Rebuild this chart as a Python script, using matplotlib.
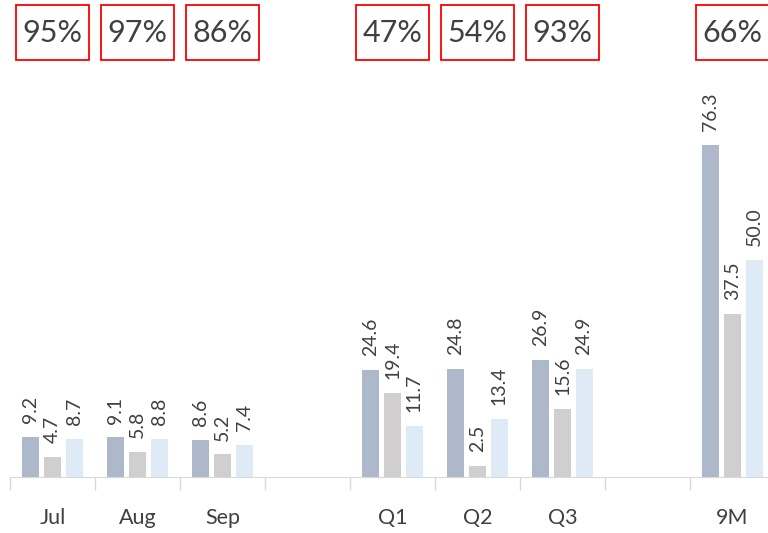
import numpy as np
import matplotlib.pyplot as plt
import matplotlib
from matplotlib.patches import Rectangle
from matplotlib.transforms import blended_transform_factory

matplotlib.rcParams.update({'font.family': 'Lato'})

categories = ['Jul', 'Aug', 'Sep', '', 'Q1', 'Q2', 'Q3', '', '9M']
series_a = [9.2, 9.1, 8.6, None, 24.6, 24.8, 26.9, None, 76.3]
series_b = [4.7, 5.8, 5.2, None, 19.4, 2.5, 15.6, None, 37.5]
series_c = [8.7, 8.8, 7.4, None, 11.7, 13.4, 24.9, None, 50.0]
ratios = ['95%', '97%', '86%', None, '47%', '54%', '93%', None, '66%']

colors = ['#adb9ca', '#d0cece', '#deebf7']
text_color = '#404040'

fig = plt.figure(figsize=(7.68, 5.33), dpi=100)
ax = fig.add_axes([10/768, 56/533, 765/768, 477/533])

x = np.arange(len(categories))
offsets = [-0.253, 0, 0.253]
width = 0.2
for series, off, col in zip([series_a, series_b, series_c], offsets, colors):
    for xi, v in zip(x, series):
        if v is None:
            continue
        ax.bar(xi + off, v, width=width, color=col)
        ax.annotate('%.1f' % v, xy=(xi + off, v), xytext=(0, 10), textcoords='offset points',
                    rotation=90, ha='center', va='bottom', fontsize=14, color=text_color)

# red boxes with ratios across the top
trans = blended_transform_factory(ax.transData, fig.transFigure)
for xi, r in zip(x, ratios):
    if r is None:
        continue
    ax.add_patch(Rectangle((xi - 0.435, (533 - 60) / 533), 0.87, 55 / 533, transform=trans,
                           facecolor='white', edgecolor='#ff0000', linewidth=1.3, clip_on=False))
    ax.text(xi, 1 - 33/533, r, transform=trans, ha='center', va='center',
            fontsize=22, color=text_color)

ax.set_xlim(-0.5, len(categories) - 0.5)
ax.set_ylim(0, 109.7)
ax.set_xticks(x)
ax.set_xticklabels(categories, fontsize=15.5, color=text_color)
ax.set_xticks(np.arange(-0.5, len(categories)), minor=True)
ax.tick_params(axis='x', which='major', length=0, pad=22)
ax.tick_params(axis='x', which='minor', length=9, color='#d9d9d9', width=1)
ax.set_yticks([])
for s in ['top', 'right', 'left']:
    ax.spines[s].set_visible(False)
ax.spines['bottom'].set_color('#d9d9d9')

fig.savefig('out.png', dpi=100)
